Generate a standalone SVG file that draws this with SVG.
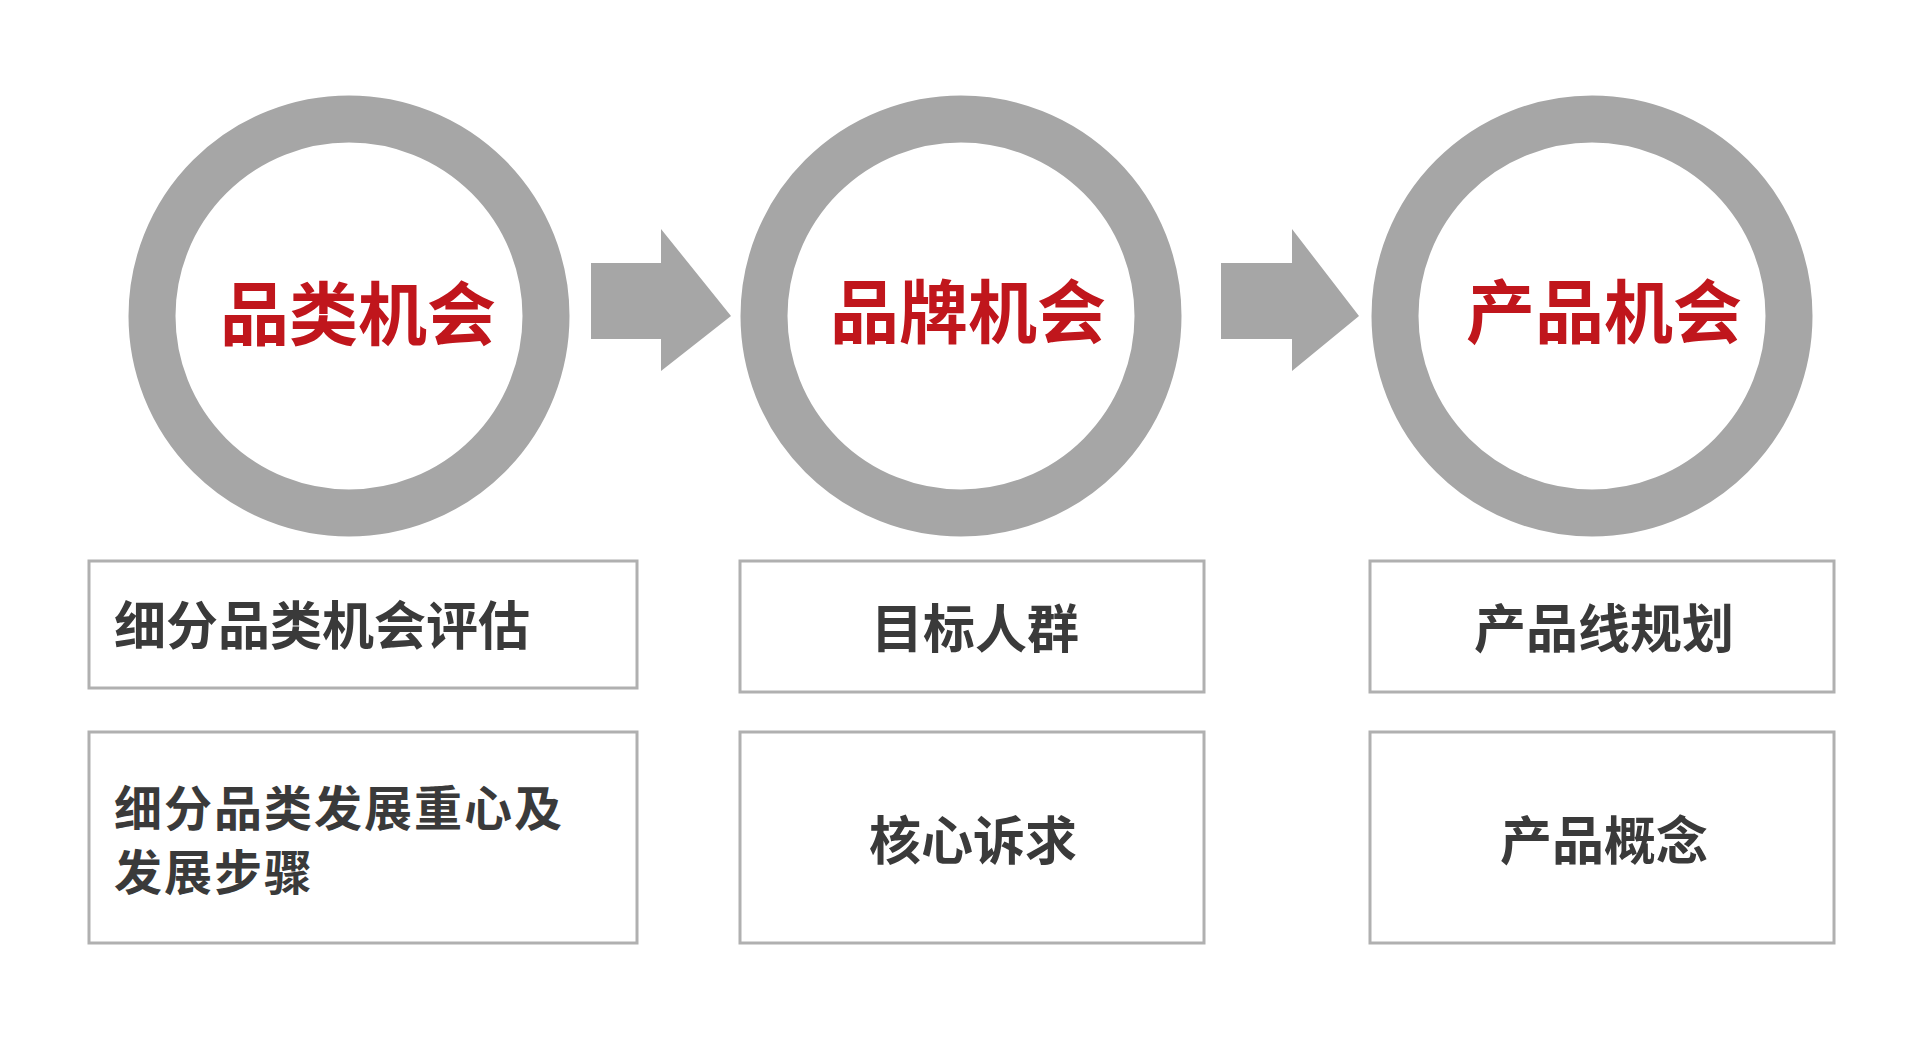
<svg xmlns="http://www.w3.org/2000/svg" width="1920" height="1057" viewBox="0 0 1920 1057">
<style>
.ring{fill:none;stroke:#a6a6a6;stroke-width:47}
.arrow{fill:#a6a6a6}
.title{font-family:"Noto Sans CJK SC",sans-serif;font-weight:bold;font-size:69px;fill:#c0161c;text-anchor:middle}
.box{fill:#fff;stroke:#b0b0b0;stroke-width:3}
.t{font-family:"Noto Sans CJK SC",sans-serif;font-weight:bold;font-size:52px;fill:#3a3a3a}
.t2{font-size:48px;letter-spacing:2px}
.c{text-anchor:middle}
</style>
<rect width="1920" height="1057" fill="#fff"/>
<g id="connectors">
<polygon class="arrow" points="591,263 661,263 661,229 731,316 661,371 661,339 591,339"/>
<polygon class="arrow" points="1221,263 1292,263 1292,229 1359,316 1292,371 1292,339 1221,339"/>
</g>
<g id="n1"><circle class="ring" cx="349" cy="316" r="197"/><text class="title" x="358" y="340">品类机会</text></g>
<g id="n2"><circle class="ring" cx="961" cy="316" r="197"/><text class="title" x="968" y="338">品牌机会</text></g>
<g id="n3"><circle class="ring" cx="1592" cy="316" r="197"/><text class="title" x="1604" y="338">产品机会</text></g>
<g id="b1"><rect class="box" x="89" y="561" width="548" height="127"/><text class="t" x="114" y="645">细分品类机会评估</text></g>
<g id="b2"><rect class="box" x="740" y="561" width="464" height="131"/><text class="t c" x="975" y="648">目标人群</text></g>
<g id="b3"><rect class="box" x="1370" y="561" width="464" height="131"/><text class="t c" x="1604" y="648">产品线规划</text></g>
<g id="b4"><rect class="box" x="89" y="732" width="548" height="211"/><text class="t t2" x="114" y="826">细分品类发展重心及</text><text class="t t2" x="114" y="890">发展步骤</text></g>
<g id="b5"><rect class="box" x="740" y="732" width="464" height="211"/><text class="t c" x="973" y="860">核心诉求</text></g>
<g id="b6"><rect class="box" x="1370" y="732" width="464" height="211"/><text class="t c" x="1604" y="860">产品概念</text></g>
</svg>
